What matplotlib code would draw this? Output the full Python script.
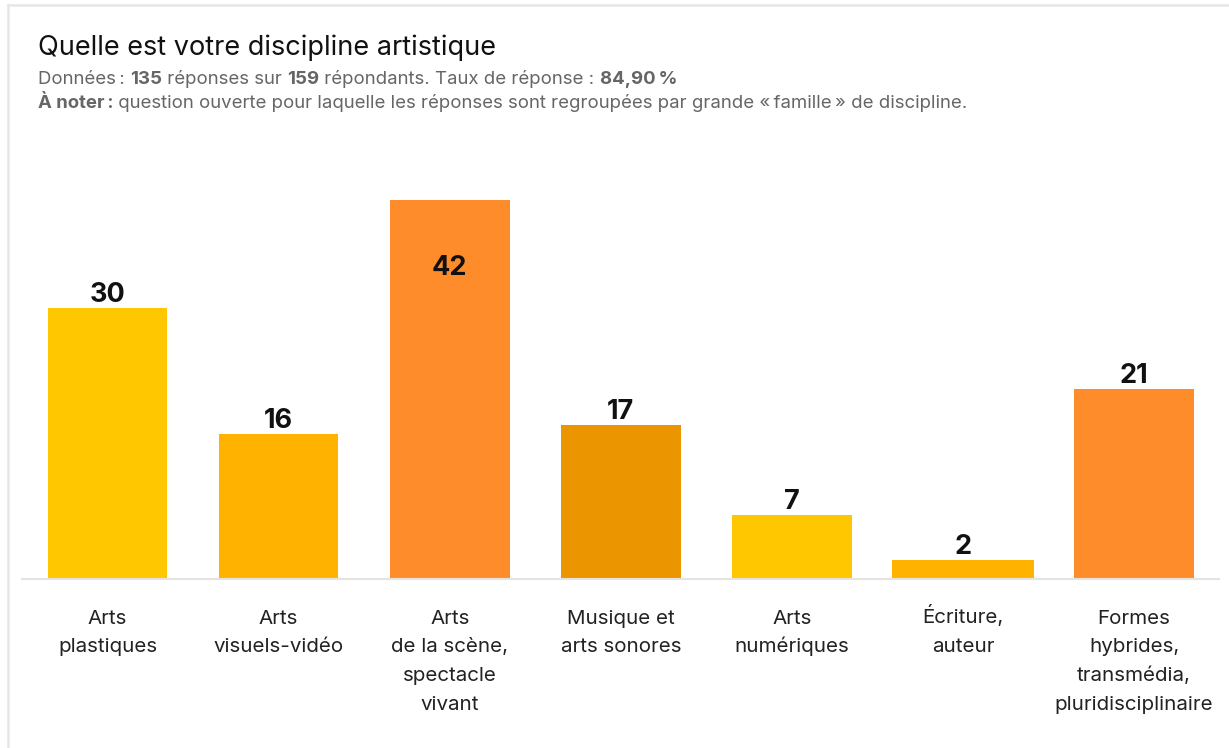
import matplotlib
matplotlib.use("Agg")
import matplotlib.pyplot as plt
from matplotlib.lines import Line2D
from matplotlib.transforms import blended_transform_factory

plt.rcParams['font.family'] = ['Inter', 'DejaVu Sans']

# ---- données -----------------------------------------------------------------
categories = [
    "Arts\nplastiques",
    "Arts\nvisuels-vidéo",
    "Arts\nde la scène,\nspectacle\nvivant",
    "Musique et\narts sonores",
    "Arts\nnumériques",
    "Écriture,\nauteur",
    "Formes\nhybrides,\ntransmédia,\npluridisciplinaire",
]
values = [30, 16, 42, 17, 7, 2, 21]

title = "Quelle est votre discipline artistique"
subtitle_1 = [("Données\u202f: ", False), ("135", True), (" réponses sur ", False),
              ("159", True), (" répondants. Taux de réponse : ", False),
              ("84,90\u202f%", True)]
subtitle_2 = [("À noter\u202f:", True),
              (" question ouverte pour laquelle les réponses sont regroupées "
               "par grande «\u202ffamille\u202f» de discipline.", False)]

# ---- style -------------------------------------------------------------------
colors = ["#FFC700", "#FFB300", "#FF8C2A", "#EB9500", "#FFC700", "#FFB300", "#FF8C2A"]
widths = [0.70, 0.70, 0.70, 0.70, 0.70, 0.83, 0.70]

W, H = 1229, 748
fig = plt.figure(figsize=(W / 100, H / 100), dpi=100)

step = 171.1
x0 = 107.5
base_y = 578
top_y = 200
ax = fig.add_axes([0, (H - base_y) / H, 1, (base_y - top_y) / H])
ax.set_xlim(-x0 / step, (W - x0) / step)
ax.set_ylim(0, max(values))

xs = list(range(len(values)))
ax.bar(xs, values, width=widths, color=colors, zorder=2)

for x, v in zip(xs, values):
    # la plus grande valeur est écrite à l'intérieur de la barre
    dy = -75 if v == max(values) else 6
    ax.annotate(str(v), (x, v), xytext=(0, dy * 0.72), textcoords="offset points",
                ha="center", va="baseline", fontsize=19.5, fontweight="bold",
                color="#111111")

ax.set_xticks([])
ax.set_yticks([])
for s in ["top", "right", "left", "bottom"]:
    ax.spines[s].set_visible(False)

# étiquettes des catégories, ligne par ligne (alignées sur la ligne de base)
trans = blended_transform_factory(ax.transData, fig.transFigure)
for x, lab in zip(xs, categories):
    for i, line in enumerate(lab.split("\n")):
        y_px = 623.5 + i * 28.7
        ax.text(x, (H - y_px) / H, line, transform=trans, ha="center", va="baseline",
                fontsize=14.8, color="#222222", clip_on=False)

# ligne de base
fig.add_artist(Line2D([22 / W, 1219 / W], [(H - base_y - 1) / H] * 2,
                      color="#e6e2df", lw=1.5, zorder=3))

# cadre de la carte
fig.add_artist(Line2D([8 / W, 1], [(H - 5) / H] * 2, color="#e8e6e4", lw=1.8))
fig.add_artist(Line2D([8 / W, 8 / W], [0, (H - 5) / H], color="#e8e6e4", lw=1.8))

# ---- textes ------------------------------------------------------------------
fig.text(38 / W, (H - 55) / H, title, fontsize=19.5, color="#111111", va="baseline")

renderer = fig.canvas.get_renderer()


def rich_line(parts, x_px, y_px, size=13.4, color="#666666"):
    x = x_px
    for txt, bold in parts:
        t = fig.text(x / W, (H - y_px) / H, txt, fontsize=size, color=color,
                     fontweight="bold" if bold else "normal", va="baseline")
        bb = t.get_window_extent(renderer=renderer)
        x += bb.width


rich_line(subtitle_1, 38, 84)
rich_line(subtitle_2, 38, 108)

fig.savefig("out.png", dpi=100)
